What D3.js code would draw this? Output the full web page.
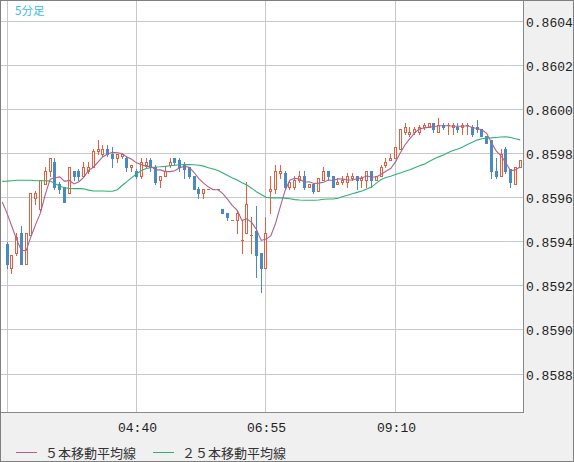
<!DOCTYPE html>
<html><head><meta charset="utf-8">
<script src="https://cdn.jsdelivr.net/npm/d3@7"></script>
<style>html,body{margin:0;padding:0;background:#f0f0f0;}svg{display:block}</style>
</head><body><svg id="c" width="574" height="462"></svg>
<script>
// ---------------- data ----------------
const title = "5分足";
const firstBar = "02:25", lastBar = "11:20", maStart = "02:20";
const open = [
 .85939,.85928,.85935,.85944,.85930,.85943,.85960,.85955,.85966,.85972,
 .85976,.85966,.85965,.85962,.85972,.85972,.85970,.85972,.85974,.85981,
 .85980,.85982,.85980,.85978,.85979,.85978,.85974,.85972,.85970,.85975,
 .85977,.85974,.85968,.85970,.85975,.85978,.85977,.85975,.85974,.85970,
 .85964,.85962,.85964,.85964,.85964,.85955,.85953,.85950,.85950,.85941,
 .85944,.85943,.85945,.85935,.85928,.85963,.85964,.85971,.85971,.85965,
 .85965,.85968,.85970,.85965,.85966,.85963,.85968,.85972,.85970,.85966,
 .85967,.85967,.85969,.85970,.85968,.85968,.85972,.85968,.85970,.85975,
 .85977,.85978,.85982,.85990,.85989,.85990,.85990,.85992,.85992,.85994,
 .85990,.85993,.85993,.85992,.85992,.85992,.85993,.85992,.85992,.85991,
 .85988,.85986,.85972,.85970,.85982,.85973,.85966,.85974];
const high = [
 .85940,.85934,.85944,.85947,.85944,.85962,.85963,.85968,.85974,.85978,
 .85978,.85967,.85965,.85974,.85972,.85973,.85976,.85976,.85982,.85986,
 .85984,.85984,.85983,.85980,.85980,.85979,.85975,.85973,.85978,.85978,
 .85978,.85975,.85970,.85974,.85978,.85978,.85978,.85976,.85974,.85970,
 .85965,.85964,.85964,.85964,.85964,.85955,.85953,.85950,.85954,.85950,
 .85967,.85951,.85956,.85935,.85951,.85970,.85975,.85975,.85972,.85968,
 .85970,.85972,.85972,.85966,.85966,.85969,.85974,.85972,.85970,.85969,
 .85970,.85971,.85971,.85970,.85970,.85972,.85972,.85970,.85975,.85978,
 .85980,.85983,.85991,.85994,.85992,.85992,.85993,.85994,.85994,.85994,
 .85996,.85994,.85994,.85994,.85994,.85994,.85994,.85993,.85995,.85991,
 .85988,.85986,.85978,.85982,.85983,.85973,.85974,.85977];
const low = [
 .85928,.85926,.85934,.85930,.85930,.85943,.85957,.85954,.85966,.85970,
 .85964,.85962,.85958,.85962,.85968,.85968,.85970,.85971,.85974,.85980,
 .85979,.85979,.85974,.85976,.85978,.85972,.85972,.85969,.85969,.85974,
 .85972,.85966,.85965,.85970,.85974,.85975,.85972,.85969,.85969,.85964,
 .85960,.85960,.85964,.85964,.85964,.85953,.85950,.85950,.85944,.85935,
 .85944,.85935,.85924,.85917,.85928,.85953,.85962,.85969,.85964,.85964,
 .85964,.85967,.85964,.85965,.85962,.85963,.85968,.85968,.85965,.85966,
 .85966,.85965,.85968,.85964,.85965,.85965,.85965,.85968,.85970,.85974,
 .85977,.85978,.85982,.85989,.85988,.85989,.85989,.85991,.85992,.85990,
 .85990,.85991,.85989,.85989,.85990,.85989,.85989,.85988,.85990,.85988,
 .85985,.85969,.85969,.85970,.85971,.85965,.85966,.85974];
const close = [
 .85930,.85934,.85942,.85930,.85944,.85962,.85962,.85968,.85972,.85978,
 .85965,.85964,.85958,.85974,.85970,.85970,.85974,.85974,.85981,.85982,
 .85982,.85980,.85978,.85980,.85980,.85974,.85975,.85970,.85976,.85976,
 .85974,.85967,.85970,.85972,.85976,.85976,.85974,.85973,.85970,.85964,
 .85962,.85964,.85964,.85964,.85964,.85953,.85951,.85950,.85953,.85941,
 .85957,.85943,.85934,.85928,.85944,.85964,.85972,.85972,.85965,.85967,
 .85968,.85970,.85965,.85966,.85963,.85969,.85972,.85970,.85965,.85967,
 .85968,.85970,.85970,.85968,.85969,.85972,.85968,.85970,.85974,.85976,
 .85978,.85983,.85991,.85992,.85990,.85991,.85992,.85993,.85994,.85991,
 .85993,.85992,.85993,.85993,.85991,.85993,.85993,.85989,.85991,.85988,
 .85985,.85972,.85970,.85980,.85972,.85967,.85974,.85977];
// 5-bar MA values before enough closes are on screen (02:20 .. 02:40)
const ma5Head = [0.85958, 0.85953, 0.85947, 0.85941, 0.85936];
// 25-bar MA, 02:20 .. 11:20
const ma25 = [
 .859674,
 .859675,.859677,.859679,.859679,.859679,.859679,.859677,.859677,.859677,.859675,
 .859664,.859652,.859645,.859642,.859641,.859641,.859640,.859634,.859630,.859630,
 .859630,.859629,.859629,.859636,.859655,.859673,.859691,.859707,.859723,.859732,
 .859736,.859739,.859740,.859742,.859745,.859747,.859749,.859750,.859750,.859749,
 .859747,.859743,.859736,.859730,.859723,.859712,.859700,.859689,.859680,.859668,
 .859657,.859643,.859627,.859614,.859602,.859599,.859599,.859599,.859598,.859595,
 .859591,.859589,.859588,.859588,.859588,.859589,.859593,.859594,.859594,.859597,
 .859605,.859611,.859618,.859624,.859630,.859639,.859648,.859666,.859682,.859691,
 .859697,.859705,.859712,.859720,.859727,.859736,.859745,.859752,.859764,.859775,
 .859785,.859794,.859805,.859814,.859821,.859830,.859841,.859851,.859861,.859867,
 .859870,.859871,.859873,.859875,.859876,.859873,.859867,.859862];
const yTicks = [0.8604, 0.8602, 0.8600, 0.8598, 0.8596, 0.8594, 0.8592, 0.8590, 0.8588];
const xGrid = ["02:25", "04:40", "06:55", "09:10"];
const xLabels = ["04:40", "06:55", "09:10"];
const legendItems = ["５本移動平均線", "２５本移動平均線"];

// ---------------- styles ----------------
const RED = "#e0613f", BLUE = "#4a8ac4", PINK = "#b0608c", GREEN = "#30b078";
const GRID = "#c8c8c8", FRAME = "#8a8a8a";
const MONO = "'Liberation Mono','DejaVu Sans Mono',monospace";
const CJK = "'Noto Sans CJK JP','Noto Sans',sans-serif";

// ---------------- scales ----------------
const parse = d3.timeParse("%H:%M");
const step = d3.timeMinute.every(5);
const endT = d3.timeMinute.offset(parse(lastBar), 1);
const barTimes = step.range(parse(firstBar), endT);
const maTimes = step.range(parse(maStart), endT);

const xs = d3.scaleTime().domain([parse("02:25"), parse("09:10")]).range([7, 395.5]);
const ys = d3.scaleLinear().domain([0.8588, 0.8604]).range([374, 21.3]);

const ma5 = ma5Head.concat(close.slice(4).map((_, k) => d3.mean(close.slice(k, k + 5))));

// ---------------- drawing ----------------
const svg = d3.select("#c");
svg.append("rect").attr("x", 0.5).attr("y", 0.5).attr("width", 573).attr("height", 461)
  .attr("fill", "#f0f0f0").attr("stroke", "#7f7f7f");
svg.append("rect").attr("x", 1).attr("y", 1).attr("width", 522).attr("height", 411).attr("fill", "#fff");

svg.append("defs").append("clipPath").attr("id", "plotclip")
  .append("rect").attr("x", 1).attr("y", 1).attr("width", 522).attr("height", 411);

const grid = svg.append("g").attr("shape-rendering", "crispEdges").attr("stroke", GRID);
grid.selectAll("line.h").data(yTicks).join("line").attr("class", "h")
  .attr("x1", 1).attr("x2", 523)
  .attr("y1", d => Math.floor(ys(d)) + 0.5).attr("y2", d => Math.floor(ys(d)) + 0.5);
grid.selectAll("line.v").data(xGrid).join("line").attr("class", "v")
  .attr("y1", 1).attr("y2", 412)
  .attr("x1", d => Math.floor(xs(parse(d))) + 0.5).attr("x2", d => Math.floor(xs(parse(d))) + 0.5);

// frame of plot
svg.append("line").attr("x1", 523.5).attr("x2", 523.5).attr("y1", 1).attr("y2", 413)
  .attr("stroke", FRAME).attr("shape-rendering", "crispEdges");
svg.append("line").attr("x1", 1).attr("x2", 524).attr("y1", 412.5).attr("y2", 412.5)
  .attr("stroke", FRAME).attr("shape-rendering", "crispEdges");

const plot = svg.append("g").attr("clip-path", "url(#plotclip)");

// candles
const bars = barTimes.map((t, i) => ({ t, o: open[i], h: high[i], l: low[i], c: close[i] }));
const cg = plot.append("g").attr("shape-rendering", "crispEdges");
cg.selectAll("g.candle").data(bars).join("g").attr("class", "candle").each(function (d) {
  const g = d3.select(this);
  const c = Math.floor(xs(d.t));
  const yO = Math.round(ys(d.o)), yC = Math.round(ys(d.c));
  const yH = Math.round(ys(d.h)), yL = Math.round(ys(d.l));
  const top = Math.min(yO, yC), bot = Math.max(yO, yC);
  const up = d.c >= d.o;
  const col = up ? RED : BLUE;
  if (up && bot - top >= 2) {
    if (top > yH) g.append("rect").attr("x", c).attr("y", yH).attr("width", 1).attr("height", top - yH).attr("fill", col);
    if (yL > bot) g.append("rect").attr("x", c).attr("y", bot + 1).attr("width", 1).attr("height", yL - bot).attr("fill", col);
    g.append("rect").attr("x", c - 0.5).attr("y", top + 0.5).attr("width", 2).attr("height", bot - top)
      .attr("fill", "#fff").attr("stroke", col);
  } else {
    g.append("rect").attr("x", c).attr("y", yH).attr("width", 1).attr("height", yL - yH + 1).attr("fill", col);
    g.append("rect").attr("x", c - 1).attr("y", top).attr("width", 3).attr("height", Math.max(1, bot - top + 1)).attr("fill", col);
  }
});

// moving averages
const line = d3.line().x(d => xs(d.t)).y(d => ys(d.v));
plot.append("path").datum(maTimes.map((t, i) => ({ t, v: ma25[i] })))
  .attr("d", line).attr("fill", "none").attr("stroke", GREEN).attr("stroke-width", 1.1);
plot.append("path").datum(maTimes.map((t, i) => ({ t, v: ma5[i] })))
  .attr("d", line).attr("fill", "none").attr("stroke", PINK).attr("stroke-width", 1.1);

// y axis labels
svg.append("g").selectAll("text").data(yTicks).join("text")
  .attr("x", 526).attr("y", d => Math.floor(ys(d)) + 5.5)
  .attr("font-family", MONO).attr("font-size", 13).attr("fill", "#222")
  .text(d => d3.format(".4f")(d));

// x axis labels
svg.append("g").selectAll("text").data(xLabels).join("text")
  .attr("x", d => Math.floor(xs(parse(d))) + 1.5).attr("y", 432)
  .attr("text-anchor", "middle")
  .attr("font-family", MONO).attr("font-size", 13).attr("fill", "#222")
  .text(d => d);

// title
svg.append("text").attr("x", 15).attr("y", 15)
  .attr("font-family", CJK).attr("font-size", 11.5).attr("fill", "#3ab8ec").text(title);

// legend
const legColors = [PINK, GREEN];
const legX = [16, 153];
const lg = svg.append("g");
legendItems.forEach((lab, i) => {
  lg.append("line").attr("x1", legX[i]).attr("x2", legX[i] + 21).attr("y1", 452.5).attr("y2", 452.5)
    .attr("stroke", legColors[i]).attr("shape-rendering", "crispEdges");
  lg.append("text").attr("x", legX[i] + 29).attr("y", 458)
    .attr("font-family", CJK).attr("font-size", 13).attr("fill", "#333").text(lab);
});
</script>
</body></html>
